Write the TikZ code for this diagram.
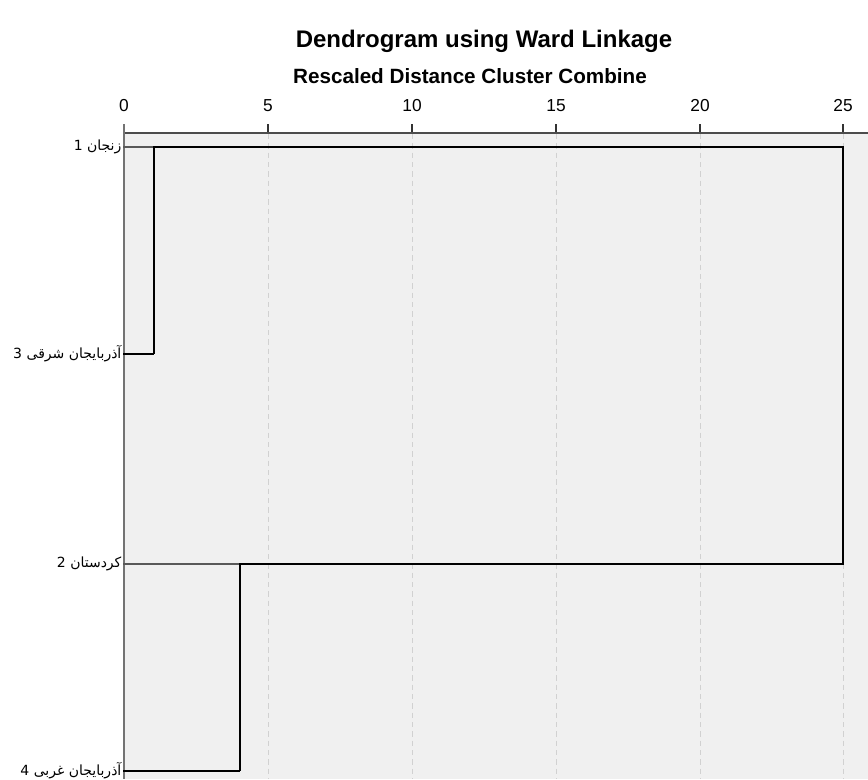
\documentclass[tikz,border=0pt]{standalone}
\usepackage{fontspec}
\setmainfont{Liberation Sans}
\newfontfamily\farsi[Script=Arabic]{DejaVu Sans}
\TeXXeTstate=1

\begin{document}
\begin{tikzpicture}[x=0.75pt,y=-0.75pt,
  leaf/.style={draw=black!65,line width=1.2pt},
  link/.style={draw=black,line width=1.8pt},
  grid/.style={draw=black!18,line width=0.7pt,dash pattern=on 4pt off 3pt},
  tick/.style={font=\fontsize{13}{14}\selectfont,inner sep=0pt},
  lbl/.style={anchor=east,inner sep=1pt,font=\farsi\fontsize{10.5}{12}\selectfont}]

  \useasboundingbox (0,0) rectangle (868,779);
  \fill[black!6] (124,133) rectangle (868,779);

  % titles
  \node[font=\bfseries\fontsize{18}{20}\selectfont] (title) at (484,41) {Dendrogram using Ward Linkage};
  \node[font=\bfseries\fontsize{15.5}{17}\selectfont] (sub) at (470,76) {Rescaled Distance Cluster Combine};

  % axis and grid
  \foreach \v/\x in {0/124,5/268,10/412,15/556,20/700,25/843} {
    \node[tick] (t\v) at (\x,106) {\v};
    \draw[black!80,line width=1pt] (\x,124) -- (\x,133);
  }
  \foreach \x in {268,412,556,700,843}
    \draw[grid] (\x,134) -- (\x,779);
  \draw[black!70,line width=1pt] (124,133) -- (868,133);
  \draw[black!55,line width=1pt] (124,124) -- (124,779);

  % leaves
  \node[lbl] (n1) at (123,147) {\beginR زنجان 1\endR};
  \node[lbl] (n3) at (123,354) {\beginR آذربایجان شرقی 3\endR};
  \node[lbl] (n2) at (123,564) {\beginR کردستان 2\endR};
  \node[lbl] (n4) at (123,771) {\beginR آذربایجان غربی 4\endR};

  \coordinate (m13) at (154,147);
  \coordinate (m13b) at (154,354);
  \coordinate (m24) at (240,564);
  \coordinate (m24b) at (240,771);
  \coordinate (top) at (843,147);
  \coordinate (bot) at (843,564);

  \draw[leaf] (n1.east) -- (m13);
  \draw[leaf] (n3.east) -- (m13b);
  \draw[leaf] (n2.east) -- (m24);
  \draw[leaf] (n4.east) -- (m24b);

  \draw[link] (m13b) -- (m13) -- (top) -- (bot) -- (m24) -- (m24b);
  \draw[link] (n3.east) -- (m13b);
  \draw[link] (n4.east) -- (m24b);

\end{tikzpicture}
\end{document}
